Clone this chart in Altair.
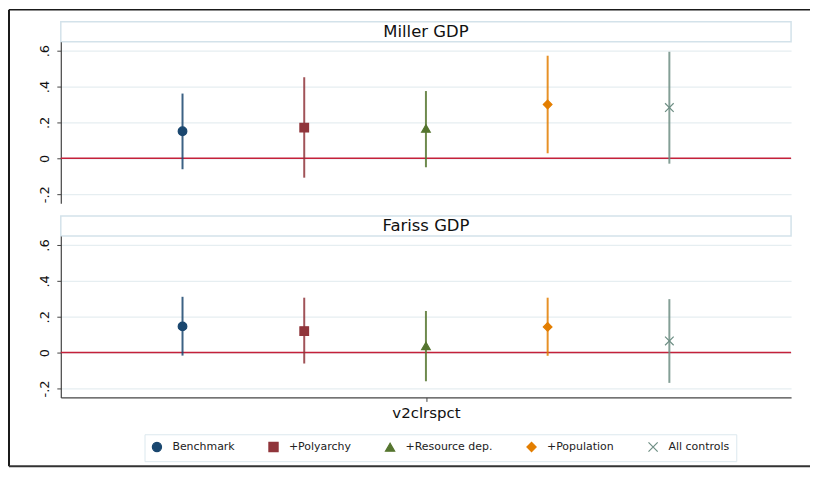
import altair as alt
import pandas as pd

# ---------------- data ----------------
models = ["Benchmark", "+Polyarchy", "+Resource dep.", "+Population", "All controls"]
panels = ["Miller GDP", "Fariss GDP"]

miller_est = [0.151, 0.171, 0.166, 0.300, 0.283]
miller_lo = [-0.061, -0.108, -0.050, 0.028, -0.030]
miller_hi = [0.361, 0.452, 0.375, 0.572, 0.594]

fariss_est = [0.146, 0.120, 0.037, 0.143, 0.065]
fariss_lo = [-0.017, -0.061, -0.160, -0.018, -0.169]
fariss_hi = [0.311, 0.306, 0.232, 0.306, 0.298]

zero_line = [0]
y_ticks = [-0.2, 0, 0.2, 0.4, 0.6]
y_tick_labels = ["-.2", "0", ".2", ".4", ".6"]
x_tick_labels = ["v2clrspct"]

colors = ["#1a476f", "#90353b", "#55752f", "#e37e00", "#6e8e84"]
shapes = ["circle", "square", "triangle-up", "diamond", "M-1,-1L1,1M1,-1L-1,1"]

FONT = "DejaVu Sans"
W = 733
H = 162
HEADER_H = 20
GAP = 13
BOX_STROKE = "#d3e2ea"


def make_df(est, lo, hi):
    return pd.DataFrame({
        "model": models,
        "pos": list(range(1, len(models) + 1)),
        "est": est,
        "lo": lo,
        "hi": hi,
    })


color_scale = alt.Scale(domain=models, range=colors)
shape_scale = alt.Scale(domain=models, range=shapes)
y_scale = alt.Scale(domain=[-0.25, 0.65], nice=False, zero=False)
x_scale = alt.Scale(domain=[0, len(models) + 1], nice=False, zero=False)

y_label_expr = f"{y_tick_labels}[round(datum.value*5)+1]".replace("'", '"')

y_axis = alt.Axis(
    values=y_ticks, labelExpr=y_label_expr, title=None,
    labelAngle=270, labelAlign="center", labelBaseline="bottom",
    labelFontSize=13, labelColor="#111", labelPadding=5,
    tickSize=4, tickColor="#444", domainColor="#444", domainWidth=1.2,
    grid=True, gridColor="#e6eef1", gridWidth=1.2,
)


def panel(df, show_x, show_legend):
    if show_x:
        x_axis = alt.Axis(
            values=[(len(models) + 1) / 2], labelExpr=f"'{x_tick_labels[0]}'",
            title=None, labelFontSize=15, labelColor="#111", labelPadding=4,
            tickSize=4, tickColor="#444", domainColor="#444", domainWidth=1.2,
            grid=False,
        )
    else:
        x_axis = None
    if show_legend:
        legend = alt.Legend(
            orient="none", legendX=84, legendY=199, direction="horizontal",
            title=None, padding=7, strokeColor="#dce8ee", fillColor="white",
            columnPadding=31, labelOffset=10, labelFontSize=11, labelFont=FONT,
            labelColor="#222", symbolSize=85, symbolStrokeWidth=1.2,
        )
    else:
        legend = None

    base = alt.Chart(df)
    zero = alt.Chart(pd.DataFrame({"z": zero_line})).mark_rule(
        color="#c4213a", strokeWidth=1.5
    ).encode(y=alt.Y("z:Q", scale=y_scale, axis=y_axis))
    ci = base.mark_rule(strokeWidth=2, opacity=0.85).encode(
        x=alt.X("pos:Q", scale=x_scale, axis=x_axis),
        y=alt.Y("lo:Q", scale=y_scale, axis=y_axis),
        y2="hi:Q",
        color=alt.Color("model:N", scale=color_scale, legend=None),
    )
    pts = base.mark_point(filled=True, size=75, strokeWidth=1.2, opacity=1).encode(
        x=alt.X("pos:Q", scale=x_scale, axis=x_axis),
        y=alt.Y("est:Q", scale=y_scale, axis=y_axis),
        fill=alt.Fill("model:N", scale=color_scale, legend=legend),
        stroke=alt.Stroke("model:N", scale=color_scale, legend=legend),
        shape=alt.Shape("model:N", scale=shape_scale, legend=legend),
    )
    return alt.layer(zero, ci, pts).properties(width=W, height=H)


def header(title, top_gap, with_frame):
    hdf = pd.DataFrame({"t": [title]})
    box = alt.Chart(hdf).mark_rect(fill="white", stroke=BOX_STROKE, strokeWidth=1.5).encode(
        x=alt.value(0), x2=alt.value(W),
        y=alt.value(top_gap), y2=alt.value(top_gap + HEADER_H),
    )
    txt = alt.Chart(hdf).mark_text(fontSize=16.5, font=FONT, color="#111").encode(
        text="t:N", y=alt.value(top_gap + HEADER_H / 2)
    )
    layers = [box, txt]
    if with_frame:
        fr = alt.Chart(hdf)
        layers += [
            fr.mark_rule(color="#1a1a1a", strokeWidth=1.5).encode(
                x=alt.value(-52), x2=alt.value(752), y=alt.value(-12)),
            fr.mark_rule(color="#1a1a1a", strokeWidth=2).encode(
                x=alt.value(-52), y=alt.value(-12), y2=alt.value(446)),
            fr.mark_rule(color="#333333", strokeWidth=2).encode(
                x=alt.value(-52), x2=alt.value(752), y=alt.value(446)),
        ]
    return alt.layer(*layers).properties(width=W, height=top_gap + HEADER_H)


chart = alt.vconcat(
    header(panels[0], 0, True),
    panel(make_df(miller_est, miller_lo, miller_hi), False, False),
    header(panels[1], GAP, False),
    panel(make_df(fariss_est, fariss_lo, fariss_hi), True, True),
    spacing=0, bounds="flush",
).resolve_legend(
    fill="independent", stroke="independent", shape="independent"
).properties(padding=0).configure(font=FONT).configure_view(stroke=None)

chart.save("out.html", embed_options={"renderer": "svg", "actions": False})
